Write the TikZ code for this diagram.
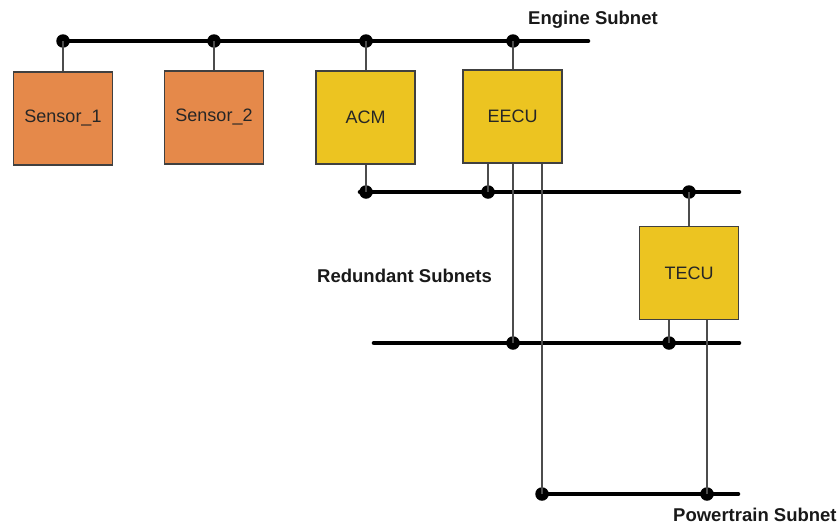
\documentclass[tikz,border=0pt]{standalone}
\usepackage{fontspec}
\setmainfont{Liberation Sans}
\begin{document}
\begin{tikzpicture}[x=1pt,y=-1pt,
  ecubox/.style={draw=black!75, line width=1.3pt, minimum width=99pt, minimum height=93pt,
    inner sep=0pt, font=\fontsize{18}{21}\selectfont, text=black!85},
  sensorbox/.style={ecubox, fill={rgb,255:red,229;green,137;blue,74}},
  ctrlbox/.style={ecubox, fill={rgb,255:red,236;green,196;blue,33}},
  bus/.style={line width=4.6pt, line cap=round},
  tap/.style={draw=black!70, line width=1.3pt},
  junction/.style={circle, fill=black, inner sep=0pt, minimum size=13.5pt},
  buslabel/.style={font=\bfseries\fontsize{18.5}{21}\selectfont, text=black!90}]
\useasboundingbox (0,0) rectangle (840,525);

% ECU and sensor boxes
\node[sensorbox] (sen1) at (63,118.5) {Sensor\_1};
\node[sensorbox] (sen2) at (214,117.5) {Sensor\_2};
\node[ctrlbox] (acm) at (365.5,117.5) {ACM};
\node[ctrlbox] (eecu) at (512.5,116.5) {EECU};
\node[ctrlbox] (tecu) at (689,273) {TECU};

% bus end points
\coordinate (eL) at (63,41);   \coordinate (eR) at (588,41);
\coordinate (aL) at (360,192); \coordinate (aR) at (739,192);
\coordinate (bL) at (374,343); \coordinate (bR) at (739,343);
\coordinate (pL) at (542,494); \coordinate (pR) at (738,494);

% buses
\draw[bus] (eL) -- (eR);
\draw[bus] (aL) -- (aR);
\draw[bus] (bL) -- (bR);
\draw[bus] (pL) -- (pR);

% junction dots
\node[junction] (e1) at (63,41) {};
\node[junction] (e2) at (214,41) {};
\node[junction] (e3) at (366,41) {};
\node[junction] (e4) at (513,41) {};
\node[junction] (r1) at (366,192) {};
\node[junction] (r2) at (488,192) {};
\node[junction] (r3) at (689,192) {};
\node[junction] (s1) at (513,343) {};
\node[junction] (s2) at (669,343) {};
\node[junction] (p1) at (542,494) {};
\node[junction] (p2) at (707,494) {};

% taps onto the Engine Subnet
\draw[tap] (sen1.north -| e1) -- (e1.center);
\draw[tap] (sen2.north -| e2) -- (e2.center);
\draw[tap] (acm.north -| e3) -- (e3.center);
\draw[tap] (eecu.north -| e4) -- (e4.center);

% taps onto the redundant subnets and the powertrain subnet
\draw[tap] (acm.south -| r1) -- (r1.center);
\draw[tap] (eecu.south -| r2) -- (r2.center);
\draw[tap] (eecu.south -| s1) -- (s1.center);
\draw[tap] (eecu.south -| p1) -- (p1.center);
\draw[tap] (tecu.north -| r3) -- (r3.center);
\draw[tap] (tecu.south -| s2) -- (s2.center);
\draw[tap] (tecu.south -| p2) -- (p2.center);

% subnet labels
\node[buslabel, anchor=west, inner sep=0pt] (lblE) at (528,20) {Engine Subnet};
\node[buslabel, anchor=west, inner sep=0pt] (lblR) at (317,276) {Redundant Subnets};
\node[buslabel, anchor=west, inner sep=0pt] (lblP) at (673,515) {Powertrain Subnet};
\end{tikzpicture}
\end{document}
